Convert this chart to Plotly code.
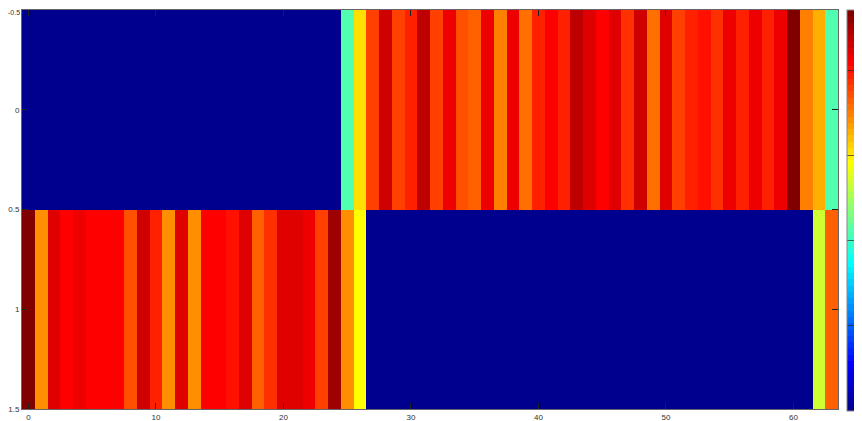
import plotly.graph_objects as go

# Column indices (0..63) and row indices
columns = list(range(64))
rows = [0, 1]

# Colour level (jet(64) index, 0..63) read for each cell
row0_levels = [0, 0, 0, 0, 0, 0, 0, 0, 0, 0,
               0, 0, 0, 0, 0, 0, 0, 0, 0, 0,
               0, 0, 0, 0, 0, 28, 41, 51, 58, 51,
               53, 59, 51, 56, 50, 49, 56, 47, 56, 48,
               53, 55, 53, 59, 57, 55, 57, 52, 58, 48,
               57, 51, 53, 54, 52, 56, 53, 56, 53, 56,
               63, 47, 44, 28]
row1_levels = [63, 46, 57, 55, 56, 55, 55, 55, 50, 58,
               53, 46, 57, 46, 55, 55, 54, 57, 49, 52,
               57, 57, 56, 51, 61, 46, 39, 0, 0, 0,
               0, 0, 0, 0, 0, 0, 0, 0, 0, 0,
               0, 0, 0, 0, 0, 0, 0, 0, 0, 0,
               0, 0, 0, 0, 0, 0, 0, 0, 0, 0,
               0, 0, 36, 49]

x_tickvals = [0, 10, 20, 30, 40, 50, 60]
y_tickvals = [-0.5, 0, 0.5, 1, 1.5]
y_ticktext = ["-0.5", "0", "0.5", "1", "1.5"]


def jet64():
    cols = []
    for k in range(1, 65):
        # MATLAB jet(64) piecewise definition
        if k <= 8:
            r, g, b = 0, 0, 0.5 + 0.0625 * k
        elif k <= 24:
            r, g, b = 0, 0.0625 * (k - 8), 1
        elif k <= 40:
            r, g, b = 0.0625 * (k - 24), 1, 1 - 0.0625 * (k - 24)
        elif k <= 56:
            r, g, b = 1, 1 - 0.0625 * (k - 40), 0
        else:
            r, g, b = 1 - 0.0625 * (k - 56), 0, 0
        cols.append("rgb(%d,%d,%d)" % (round(r * 255), round(g * 255), round(b * 255)))
    return cols


jet = jet64()
colorscale = []
for i, c in enumerate(jet):
    colorscale.append([i / 64, c])
    colorscale.append([(i + 1) / 64, c])

zmin, zmax = -0.5, 63.5
cb_fracs = [0.212, 0.424, 0.636, 0.848]
cb_ticks = [zmin + f * (zmax - zmin) for f in cb_fracs]

# page body has an 8px default margin; the figure is sized so that the plot
# area lands at x 22..838, y 10..409 and the colour bar at x 847..860
W, H = 854, 413
ML, MR, MT, MB = 14, 2, 2, 12
paper_w = W - ML - MR
plot_w = 816

fig = go.Figure(
    go.Heatmap(
        z=[row0_levels, row1_levels],
        x=columns,
        y=rows,
        zmin=zmin,
        zmax=zmax,
        colorscale=colorscale,
        colorbar=dict(
            x=(847 - 22) / paper_w,
            xanchor="left",
            xpad=0,
            y=1,
            yanchor="top",
            ypad=0,
            len=401,
            lenmode="pixels",
            thickness=13,
            outlinewidth=1,
            outlinecolor="#888888",
            tickvals=cb_ticks,
            ticks="inside",
            ticklen=13,
            tickwidth=1,
            tickcolor="rgba(40,40,40,0.7)",
            showticklabels=False,
        ),
    )
)

axis_font = dict(family="Liberation Sans, Arial, sans-serif", size=8, color="#333333")

# the top y label would touch the page edge: tick text shown for the other
# ticks, the first one placed as an annotation just inside the page
shown_ticktext = [""] + y_ticktext[1:]

fig.add_annotation(
    text=y_ticktext[0],
    xref="paper",
    x=0,
    xanchor="right",
    xshift=-1,
    yref="y",
    y=y_tickvals[0],
    yanchor="middle",
    yshift=-2,
    showarrow=False,
    font=dict(family="Liberation Sans, Arial, sans-serif", size=7, color="#333333"),
    borderpad=0,
)

fig.update_layout(
    width=W,
    height=H,
    margin=dict(l=ML, r=MR, t=MT, b=MB, autoexpand=False),
    paper_bgcolor="white",
    plot_bgcolor="white",
    xaxis=dict(
        domain=[0, plot_w / paper_w],
        range=[-0.5, 63.5],
        tickvals=x_tickvals,
        ticks="inside",
        ticklen=6,
        tickcolor="#222222",
        showline=True,
        linecolor="#666666",
        linewidth=1,
        mirror="ticks",
        showgrid=False,
        zeroline=False,
        automargin=False,
        tickfont=axis_font,
        ticklabelstandoff=0,
        ticklabeloverflow="allow",
    ),
    yaxis=dict(
        range=[1.5, -0.5],
        tickvals=y_tickvals,
        ticktext=shown_ticktext,
        ticks="inside",
        ticklen=6,
        tickcolor="#222222",
        showline=True,
        linecolor="#666666",
        linewidth=1,
        mirror="ticks",
        showgrid=False,
        zeroline=False,
        automargin=False,
        tickfont=axis_font,
        ticklabeloverflow="allow",
    ),
)

fig.write_html("out.html")
